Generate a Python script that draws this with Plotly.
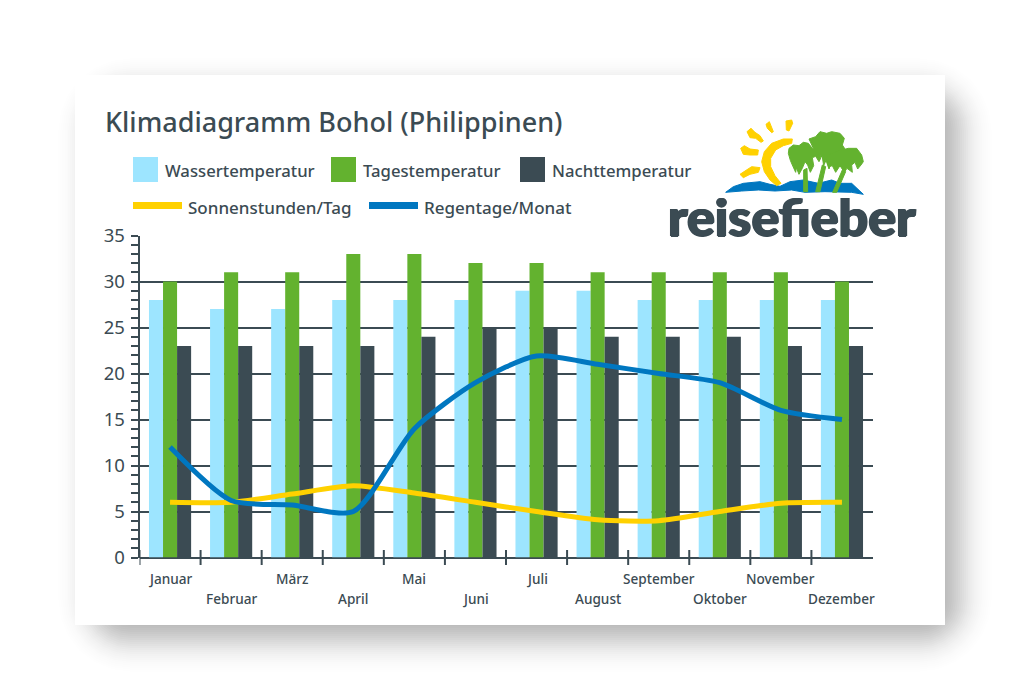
import math
import plotly.graph_objects as go

months = ["Januar", "Februar", "März", "April", "Mai", "Juni", "Juli", "August",
          "September", "Oktober", "November", "Dezember"]
wasser = [28, 27, 27, 28, 28, 28, 29, 29, 28, 28, 28, 28]
tag = [30, 31, 31, 33, 33, 32, 32, 31, 31, 31, 31, 30]
nacht = [23, 23, 23, 23, 24, 25, 25, 24, 24, 24, 23, 23]
sonne = [6, 6, 6.9, 7.8, 7, 6, 5, 4.1, 4, 5, 5.9, 6]
regen = [12, 6.2, 5.7, 5, 14, 19, 21.9, 21, 20, 19, 16, 15]
y_ticks = [0, 5, 10, 15, 20, 25, 30, 35]

W, H = 1020, 700
DARK = "#3b4b53"
LIGHT = "#9de5ff"
GREEN = "#63b22f"
YELLOW = "#ffd100"
BLUE = "#0077c0"
FONT = "Noto Sans"

# logo outlines, in pixels of a crop starting at (725, 115), scale 3
SUN_RAYS = [
    [(183, 18), (200, 15), (203, 25), (192, 48), (184, 45)],
    [(123, 28), (133, 20), (145, 50), (140, 53), (127, 40)],
    [(66, 50), (78, 40), (90, 52), (105, 62), (115, 78), (108, 82), (92, 70), (75, 68)],
    [(47, 100), (58, 92), (75, 102), (100, 105), (98, 120), (75, 120), (55, 118)],
    [(45, 178), (60, 168), (80, 155), (105, 158), (100, 172), (75, 178), (55, 188)],
    [(202, 72), (175, 72), (140, 85), (118, 110), (110, 140), (118, 170), (135, 195), (155, 212),
     (168, 205), (150, 182), (137, 155), (137, 130), (152, 105), (175, 92), (200, 85)],
]
WAVES = [(2, 232), (25, 215), (55, 205), (105, 200), (135, 208), (165, 214), (195, 200), (235, 195),
         (280, 205), (320, 195), (345, 205), (380, 205), (415, 238), (380, 232), (300, 230), (240, 232),
         (200, 225), (150, 228), (100, 225), (50, 228)]
PALMS = [
    [(236, 165), (246, 160), (248, 230), (236, 230)],
    [(292, 150), (302, 155), (285, 230), (272, 230)],
    [(352, 165), (362, 170), (335, 232), (323, 232)],
    [(192, 100), (205, 90), (222, 92), (235, 82), (250, 85), (262, 100), (278, 108), (288, 128), (282, 140),
     (272, 124), (262, 128), (266, 152), (256, 172), (248, 150), (240, 140), (232, 160), (222, 178), (214, 158),
     (212, 172), (202, 150), (196, 136), (190, 115)],
    [(252, 72), (272, 65), (285, 50), (305, 55), (320, 50), (345, 55), (358, 70), (352, 90), (362, 105),
     (352, 127), (340, 110), (330, 120), (320, 138), (312, 162), (303, 136), (296, 152), (292, 126), (278, 118),
     (265, 100)],
    [(310, 120), (340, 108), (370, 100), (395, 100), (410, 120), (415, 140), (408, 150), (398, 162),
     (390, 142), (380, 150), (382, 172), (366, 160), (358, 172), (345, 152), (332, 172), (322, 152), (312, 155),
     (305, 135)],
]

fig = go.Figure()
fig.add_bar(x=months, y=wasser, name="Wassertemperatur", marker_color=LIGHT, marker_line_width=0)
fig.add_bar(x=months, y=tag, name="Tagestemperatur", marker_color=GREEN, marker_line_width=0)
fig.add_bar(x=months, y=nacht, name="Nachttemperatur", marker_color=DARK, marker_line_width=0)
fig.add_scatter(x=months, y=sonne, name="Sonnenstunden/Tag", mode="lines",
                line=dict(color=YELLOW, width=5, shape="spline", smoothing=0.7))
fig.add_scatter(x=months, y=regen, name="Regentage/Monat", mode="lines",
                line=dict(color=BLUE, width=5, shape="spline", smoothing=0.7))


def px(x):
    return x / W


def py(y):
    return 1 - y / H


def rect(x0, y0, x1, y1, color, opacity=1, layer="below"):
    fig.add_shape(type="rect", xref="paper", yref="paper", x0=px(x0), x1=px(x1), y0=py(y0), y1=py(y1),
                  fillcolor=color, opacity=opacity, line_width=0, layer=layer)


def polygon(points, color):
    pts = [(px(725 + a / 3), py(115 + b / 3)) for a, b in points]
    path = "M" + " L".join(f"{a:.5f} {b:.5f}" for a, b in pts) + " Z"
    fig.add_shape(type="path", xref="paper", yref="paper", path=path, fillcolor=color, line=dict(color=color, width=1),
                  layer="above")


def rounded(x0, y0, x1, y1, r):
    # rectangle with round corners as a path, for the shadow
    pts = []
    for cx, cy, start in [(x1 - r, y0 + r, -90), (x1 - r, y1 - r, 0), (x0 + r, y1 - r, 90), (x0 + r, y0 + r, 180)]:
        for k in range(7):
            a = math.radians(start + k * 15)
            pts.append((px(cx + r * math.cos(a)), py(cy + r * math.sin(a))))
    return "M" + " L".join(f"{a:.5f} {b:.5f}" for a, b in pts) + " Z"


def label(x, y, text, size, anchor="left", xref="paper", weight=500, family=FONT, shadow=None):
    fig.add_annotation(xref=xref, yref="paper", x=x if xref != "paper" else px(x), y=py(y), text=text, showarrow=False,
                       xanchor=anchor, yanchor="middle",
                       font=dict(family=family, size=size, color=DARK, weight=weight, shadow=shadow))


# soft shadow of the card, a stack of faint rounded boxes with a bell shaped weight
SIGMA = 16
STEPS = range(-40, 41, 2)
weights = [math.exp(-d * d / (2 * SIGMA * SIGMA)) for d in STEPS]
for d, w in zip(STEPS, weights):
    op = 0.32 * w / sum(weights)
    fig.add_shape(type="path", xref="paper", yref="paper", line_width=0, fillcolor="#000000", opacity=op, layer="below",
                  path=rounded(90 - d, 90 - d, 960 + d, 640 + d, max(d + 40, 1)))
rect(75, 75, 945, 625, "#ffffff")

# white patch of the logo cuts the top grid line
rect(639, 228, 885, 242, "#ffffff", layer="above")

label(103, 122, "Klimadiagramm Bohol (Philippinen)", 27)
for x, color, text in [(133, LIGHT, "Wassertemperatur"), (331, GREEN, "Tagestemperatur"),
                       (520, DARK, "Nachttemperatur")]:
    rect(x, 157, x + 25, 182, color, layer="above")
    label(x + 30, 171, text, 16.7)
for x, color, text in [(133, YELLOW, "Sonnenstunden/Tag"), (369, BLUE, "Regentage/Monat")]:
    rect(x, 202, x + 49, 209, color, layer="above")
    label(x + 53, 207, text, 17)

# logo
polygon(WAVES, BLUE)
for pts in SUN_RAYS:
    polygon(pts, YELLOW)
for pts in PALMS:
    polygon(pts, GREEN)
label(792, 216, "reisefieber", 52, anchor="center", weight=900, family="Lato",
      shadow=f"1px 0 0 {DARK}, -1px 0 0 {DARK}, 0 1px 0 {DARK}")

# x ticks cross the axis line
for i in range(12):
    fig.add_shape(type="line", xref="x", yref="paper", x0=i - 0.5, x1=i - 0.5, y0=py(550), y1=py(565),
                  line=dict(color=DARK, width=2), layer="above")

# month names on two rows
for i, m in enumerate(months):
    label(m, 578 if i % 2 == 0 else 598, m, 13.6, anchor="center", xref="x")

fig.update_layout(
    width=W, height=H, margin=dict(l=0, r=0, t=0, b=0, autoexpand=False), paper_bgcolor="#ffffff",
    plot_bgcolor="rgba(0,0,0,0)", showlegend=False, barmode="group", bargap=0.31, bargroupgap=0,
    xaxis=dict(domain=[px(139.5), px(872.5)], type="category", categoryorder="array", categoryarray=months,
               range=[-0.5, 11.5], showticklabels=False, ticks="", showgrid=False, showline=False, zeroline=False,
               automargin=False),
    yaxis=dict(domain=[py(557.5), py(235.5)], range=[0, 35], tickmode="array", tickvals=y_ticks, automargin=False,
               showgrid=True, gridcolor=DARK, gridwidth=2, zeroline=True, zerolinecolor=DARK, zerolinewidth=2,
               showline=True, linecolor=DARK, linewidth=2, ticks="outside", ticklen=7, tickwidth=2, tickcolor=DARK,
               tickfont=dict(family=FONT, size=18.5, color=DARK), ticklabelstandoff=2,
               minor=dict(dtick=1, ticks="outside", ticklen=7, tickwidth=2, tickcolor=DARK, showgrid=False)),
)

fig.write_html("out.html", config=dict(displayModeBar=False), post_script="document.body.style.margin='0';")
